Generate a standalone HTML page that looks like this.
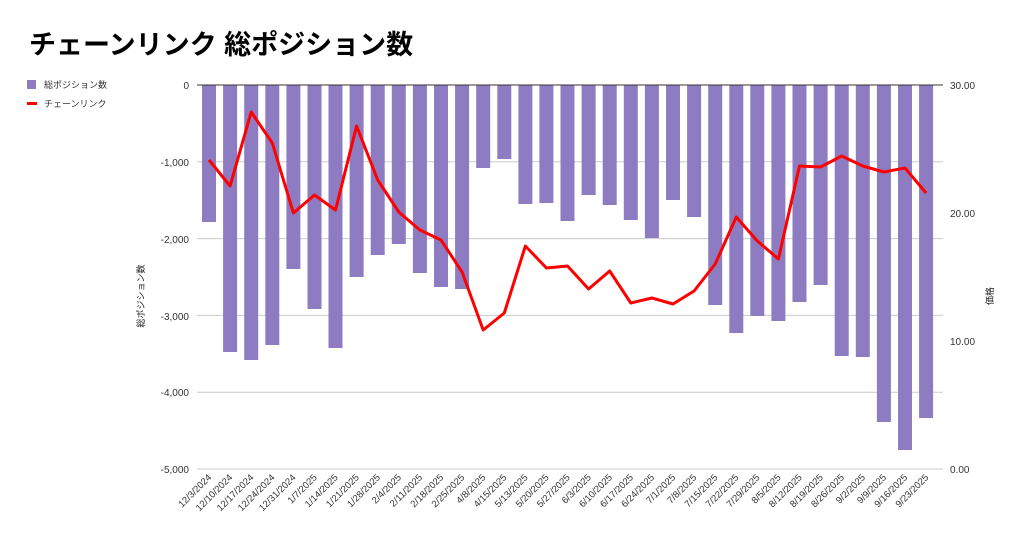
<!DOCTYPE html>
<html><head><meta charset="utf-8"><style>
body{margin:0;background:#fff;}
text{font-family:"Liberation Sans","Noto Sans CJK JP",sans-serif;}
</style></head><body>
<svg width="1024" height="543" xmlns="http://www.w3.org/2000/svg">
<rect width="1024" height="543" fill="#fff"/>
<text x="29" y="54" font-size="27" font-weight="bold" fill="#000">チェーンリンク 総ポジション数</text>
<rect x="27" y="80" width="9" height="9" fill="#8e7cc3"/>
<text x="44" y="88" font-size="9" fill="#333">総ポジション数</text>
<rect x="27" y="102" width="10" height="3" fill="#f00"/>
<text x="44" y="107" font-size="9" fill="#333">チェーンリンク</text>
<g stroke="#ccc" stroke-width="1">
<line x1="197" x2="943" y1="161.8" y2="161.8"/><line x1="197" x2="943" y1="238.6" y2="238.6"/><line x1="197" x2="943" y1="315.4" y2="315.4"/><line x1="197" x2="943" y1="392.2" y2="392.2"/><line x1="197" x2="943" y1="469" y2="469"/>
</g>
<g font-size="10" fill="#333" text-anchor="end">
<text x="189" y="89">0</text><text x="189" y="166">-1,000</text><text x="189" y="243">-2,000</text><text x="189" y="320">-3,000</text><text x="189" y="396">-4,000</text><text x="189" y="473">-5,000</text>
</g>
<g font-size="10" fill="#333">
<text x="950" y="89">30.00</text><text x="950" y="217">20.00</text><text x="950" y="345">10.00</text><text x="950" y="473">0.00</text>
</g>
<text transform="translate(144,296) rotate(-90)" font-size="9" text-anchor="middle" fill="#222">総ポジション数</text>
<text transform="translate(993,296) rotate(-90)" font-size="9" text-anchor="middle" fill="#222">価格</text>
<g fill="#8e7cc3">
<rect x="202" y="85" width="14" height="137"/><rect x="223.1" y="85" width="14" height="267"/><rect x="244.2" y="85" width="14" height="275"/><rect x="265.3" y="85" width="14" height="260"/><rect x="286.4" y="85" width="14" height="184"/><rect x="307.5" y="85" width="14" height="224"/><rect x="328.5" y="85" width="14" height="263"/><rect x="349.6" y="85" width="14" height="192"/><rect x="370.7" y="85" width="14" height="170"/><rect x="391.8" y="85" width="14" height="159"/><rect x="412.9" y="85" width="14" height="188"/><rect x="434" y="85" width="14" height="202"/><rect x="455.1" y="85" width="14" height="204"/><rect x="476.2" y="85" width="14" height="83"/><rect x="497.3" y="85" width="14" height="74"/><rect x="518.4" y="85" width="14" height="119"/><rect x="539.4" y="85" width="14" height="118"/><rect x="560.5" y="85" width="14" height="136"/><rect x="581.6" y="85" width="14" height="110"/><rect x="602.7" y="85" width="14" height="120"/><rect x="623.8" y="85" width="14" height="135"/><rect x="644.9" y="85" width="14" height="153"/><rect x="666" y="85" width="14" height="115"/><rect x="687.1" y="85" width="14" height="132"/><rect x="708.2" y="85" width="14" height="220"/><rect x="729.3" y="85" width="14" height="248"/><rect x="750.3" y="85" width="14" height="231"/><rect x="771.4" y="85" width="14" height="236"/><rect x="792.5" y="85" width="14" height="217"/><rect x="813.6" y="85" width="14" height="200"/><rect x="834.7" y="85" width="14" height="271"/><rect x="855.8" y="85" width="14" height="272"/><rect x="876.9" y="85" width="14" height="337"/><rect x="898" y="85" width="14" height="365"/><rect x="919.1" y="85" width="14" height="333"/>
</g>
<line x1="197" x2="943" y1="85" y2="85" stroke="#333" stroke-width="1"/>
<polyline fill="none" stroke="#f00" stroke-width="3" stroke-linejoin="round" points="209,160 230.1,186 251.2,112 272.3,143 293.4,213 314.5,195 335.5,210 356.6,126 377.7,180 398.8,212 419.9,230 441,240 462.1,272 483.2,330 504.3,313 525.4,246 546.4,268 567.5,266 588.6,289 609.7,271 630.8,303 651.9,298 673,304 694.1,291 715.2,264 736.3,217 757.3,241 778.4,259 799.5,166 820.6,167 841.7,156 862.8,166 883.9,172 905,168 926.1,193"/>
<g font-size="9.5" fill="#333" text-anchor="end">
<text transform="translate(212,478) rotate(-45)">12/3/2024</text><text transform="translate(233.1,478) rotate(-45)">12/10/2024</text><text transform="translate(254.2,478) rotate(-45)">12/17/2024</text><text transform="translate(275.3,478) rotate(-45)">12/24/2024</text><text transform="translate(296.4,478) rotate(-45)">12/31/2024</text><text transform="translate(317.5,478) rotate(-45)">1/7/2025</text><text transform="translate(338.5,478) rotate(-45)">1/14/2025</text><text transform="translate(359.6,478) rotate(-45)">1/21/2025</text><text transform="translate(380.7,478) rotate(-45)">1/28/2025</text><text transform="translate(401.8,478) rotate(-45)">2/4/2025</text><text transform="translate(422.9,478) rotate(-45)">2/11/2025</text><text transform="translate(444,478) rotate(-45)">2/18/2025</text><text transform="translate(465.1,478) rotate(-45)">2/25/2025</text><text transform="translate(486.2,478) rotate(-45)">4/8/2025</text><text transform="translate(507.3,478) rotate(-45)">4/15/2025</text><text transform="translate(528.4,478) rotate(-45)">5/13/2025</text><text transform="translate(549.4,478) rotate(-45)">5/20/2025</text><text transform="translate(570.5,478) rotate(-45)">5/27/2025</text><text transform="translate(591.6,478) rotate(-45)">6/3/2025</text><text transform="translate(612.7,478) rotate(-45)">6/10/2025</text><text transform="translate(633.8,478) rotate(-45)">6/17/2025</text><text transform="translate(654.9,478) rotate(-45)">6/24/2025</text><text transform="translate(676,478) rotate(-45)">7/1/2025</text><text transform="translate(697.1,478) rotate(-45)">7/8/2025</text><text transform="translate(718.2,478) rotate(-45)">7/15/2025</text><text transform="translate(739.3,478) rotate(-45)">7/22/2025</text><text transform="translate(760.3,478) rotate(-45)">7/29/2025</text><text transform="translate(781.4,478) rotate(-45)">8/5/2025</text><text transform="translate(802.5,478) rotate(-45)">8/12/2025</text><text transform="translate(823.6,478) rotate(-45)">8/19/2025</text><text transform="translate(844.7,478) rotate(-45)">8/26/2025</text><text transform="translate(865.8,478) rotate(-45)">9/2/2025</text><text transform="translate(886.9,478) rotate(-45)">9/9/2025</text><text transform="translate(908,478) rotate(-45)">9/16/2025</text><text transform="translate(929.1,478) rotate(-45)">9/23/2025</text>
</g>
</svg>
</body></html>
